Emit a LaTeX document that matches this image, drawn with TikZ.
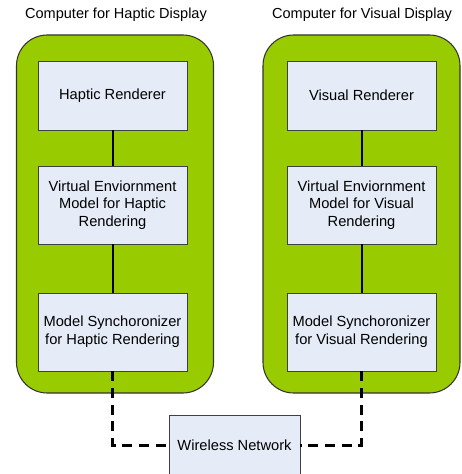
\documentclass[tikz,border=0pt]{standalone}
\usepackage{fontspec}
\setmainfont{Liberation Sans}
\usetikzlibrary{positioning}
\definecolor{pcgreen}{HTML}{99CC00}
\definecolor{boxfill}{HTML}{E6ECF7}
\tikzset{
  pc/.style={draw=black!80,line width=0.8pt,fill=pcgreen,rounded corners=23pt,minimum width=147.75pt,minimum height=268.5pt},
  block/.style={draw=black!75,line width=0.7pt,fill=boxfill,minimum width=111.75pt,align=center,font=\fontsize{11}{13.2}\selectfont},
  link/.style={line width=1.5pt},
  netlink/.style={line width=2.25pt,dash pattern=on 7.5pt off 5pt},
}
\begin{document}
\begin{tikzpicture}[x=0.75pt,y=-0.75pt]
\pgfmathsetmacro{\xl}{112.5}
\pgfmathsetmacro{\xr}{361.5}
\useasboundingbox (0,0) rectangle (461,474);
%
\node[pc] (hapticpc) at (115,214) {};
\node[pc] (visualpc) at (361.5,214) {};
\node[font=\fontsize{10.9}{12}\selectfont] (haptictitle) at (116,15) {Computer for Haptic Display};
\node[font=\fontsize{10.9}{12}\selectfont] (visualtitle) at (362,15) {Computer for Visual Display};
%
\node[block,minimum height=51.75pt] (hrend) at (\xl,95.5) {Haptic Renderer};
\node[block,minimum height=58.5pt] (hmodel) at (\xl,205) {Virtual Enviornment\\Model for Haptic\\Rendering};
\node[block,minimum height=58.5pt] (hsync) at (\xl,332) {Model Synchoronizer\\for Haptic Rendering};
\node[block,minimum height=51.75pt] (vrend) at (\xr,95.5) {Visual Renderer};
\node[block,minimum height=58.5pt] (vmodel) at (\xr,205) {Virtual Enviornment\\Model for Visual\\Rendering};
\node[block,minimum height=58.5pt] (vsync) at (\xr,332) {Model Synchoronizer\\for Visual Rendering};
\node[block,minimum width=98.25pt,minimum height=45pt] (wireless) at (234.5,445) {Wireless Network};
%
\draw[link] (hrend)--(hmodel);
\draw[link] (hmodel)--(hsync);
\draw[link] (vrend)--(vmodel);
\draw[link] (vmodel)--(vsync);
\draw[netlink] (hsync.south)|-(wireless.west);
\draw[netlink] (vsync.south)|-(wireless.east);
\end{tikzpicture}
\end{document}
